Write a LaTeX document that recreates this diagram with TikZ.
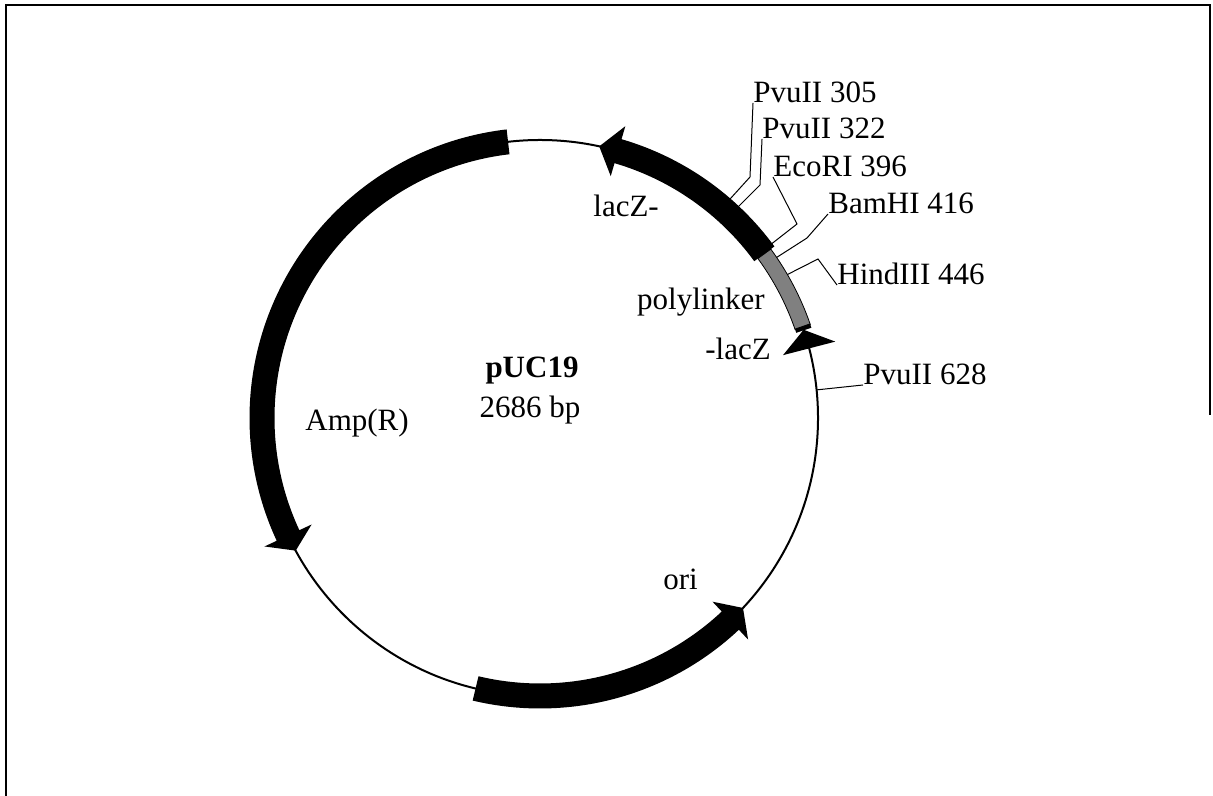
\documentclass[tikz,border=0pt]{standalone}
\usepackage{fontspec}
\setmainfont{Liberation Serif}
\definecolor{plgray}{RGB}{128,128,128}
\newcommand{\featarr}[3]{%
  \fill (#1:265.5) -- (#1:290.5) arc[start angle=#1,end angle=#2,radius=290.5]
    -- (#2:304) -- (#3:278) -- (#2:252) -- (#2:265.5)
    arc[start angle=#2,end angle=#1,radius=265.5] -- cycle;}
\begin{document}
\begin{tikzpicture}[x=0.5pt,y=0.5pt,
  lbl/.style={font=\fontsize{15.5}{18}\selectfont, inner sep=0pt, anchor=base west},
  lblc/.style={lbl, anchor=base},
  tick/.style={line width=0.5pt},
  frame/.style={line width=1pt},
  backbone/.style={line width=1pt}]
\useasboundingbox (0,0) rectangle (1213,796);
% frame
\draw[frame] (6,0) -- (6,791) -- (1210,791) -- (1210,381);

% labels of restriction sites
\node[lbl] (t305) at (753,693) {PvuII 305};
\node[lbl] (t322) at (762,657) {PvuII 322};
\node[lbl] (t396) at (773,619) {EcoRI 396};
\node[lbl] (t416) at (828,582) {BamHI 416};
\node[lbl] (t446) at (837,511) {HindIII 446};
\node[lbl] (t628) at (863,411) {PvuII 628};

% bend points
\coordinate (b305) at (750,619);
\coordinate (b322) at (760,611);
\coordinate (b396) at (797,572);
\coordinate (b416) at (807,558);
\coordinate (b446) at (818,537);

\begin{scope}[shift={(540,378)}]
  \coordinate (C) at (0,0);
  \coordinate (s305) at (49.1:278);
  \coordinate (s322) at (46.9:278);
  \coordinate (s396) at (36.9:278);
  \coordinate (s416) at (34.2:278);
  \coordinate (s446) at (30.2:278);
  \coordinate (s628) at (5.8:278);
\end{scope}

% ticks
\draw[tick] (s305) -- (b305) -- (t305.base west);
\draw[tick] (s322) -- (b322) -- (t322.base west);
\draw[tick] (s396) -- (b396) -- (t396.base west);
\draw[tick] (s416) -- (b416) -- (t416.base west);
\draw[tick] (s446) -- (b446) -- (t446.base west);
\draw[tick] (s628) -- (t628.base west);

\begin{scope}[shift={(540,378)}]
  % backbone
  \draw[backbone] (C) circle[radius=278];
  % polylinker
  \filldraw[fill=plgray, draw=black, line width=0.4pt]
    (19.1:270) -- (19.1:286) arc[start angle=19.1,end angle=36.2,radius=286]
    -- (36.2:270) arc[start angle=36.2,end angle=19.1,radius=270] -- cycle;
  \fill (18.4:270) -- (18.4:286) arc[start angle=18.4,end angle=19.3,radius=286]
    -- (19.3:270) arc[start angle=19.3,end angle=18.4,radius=270] -- cycle;
  % -lacZ head
  \fill (14.5:251) -- (18.5:278) -- (14.5:305) -- cycle;
  % lacZ-
  \featarr{36.2}{73.7}{77.7}
  % Amp(R)
  \featarr{96.6}{205}{208.5}
  % ori
  \featarr{-103.4}{-46.8}{-43.1}
\end{scope}

% feature labels
\node[lbl] (lacZa) at (593,579) {lacZ-};
\node[lbl, anchor=base east] (poly) at (765,486) {polylinker};
\node[lbl] (lacZb) at (705,436) {-lacZ};
\node[lbl] (amp) at (305,365) {Amp(R)};
\node[lbl] (ori) at (663,206) {ori};
\node[lblc, font=\fontsize{15.5}{18}\selectfont\bfseries] (name) at (532,418) {pUC19};
\node[lblc] (size) at (530,378) {2686 bp};
\end{tikzpicture}
\end{document}
